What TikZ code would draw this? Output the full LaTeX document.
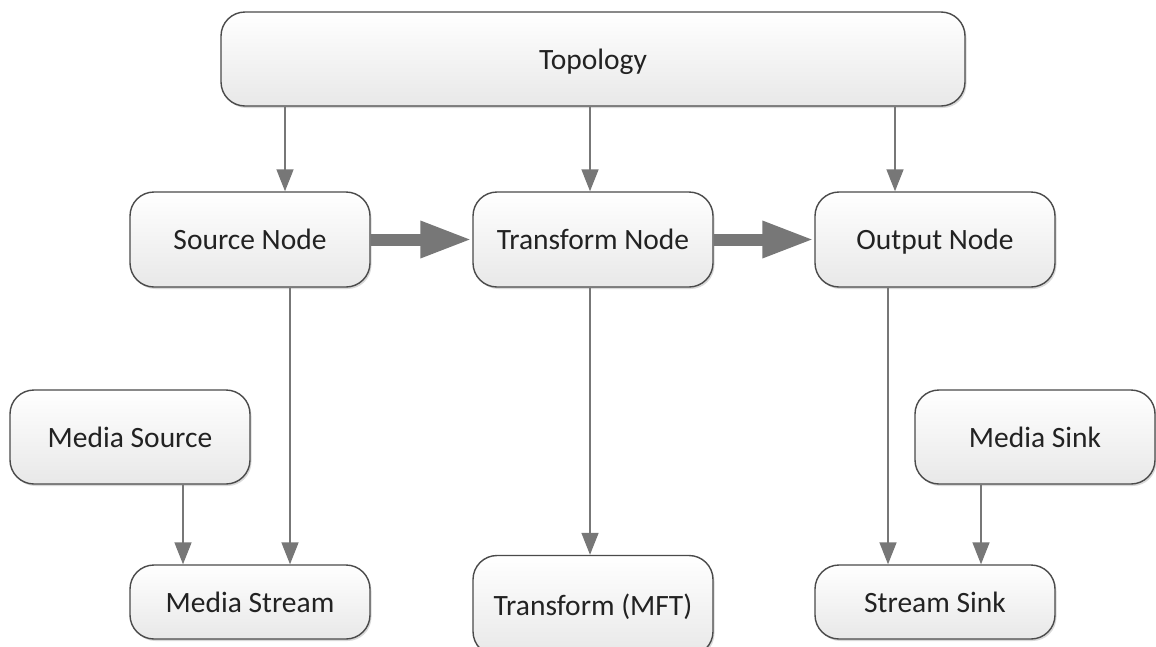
\documentclass[tikz,border=0pt]{standalone}
\usepackage{fontspec}
\setmainfont{Carlito}
\usetikzlibrary{arrows.meta,shadows}
\definecolor{edgegray}{HTML}{777777}
\definecolor{boxline}{HTML}{4A4A4A}
\definecolor{boxtext}{HTML}{222222}
\begin{document}
\begin{tikzpicture}[x=1pt,y=-1pt,
  box/.style={rectangle, rounded corners=24pt, draw=boxline, line width=1.4pt,
    top color=white, bottom color=black!9, text=boxtext,
    font=\fontsize{29.5}{33}\selectfont, inner sep=0pt,
    text height=22.5pt, text depth=2pt,
    drop shadow={shadow xshift=1.5pt, shadow yshift=-2pt, opacity=0.25, fill=black!60}},
  std/.style={box, minimum width=240pt, minimum height=95pt},
  low/.style={box, minimum width=240pt, minimum height=74pt},
  link/.style={draw=edgegray, line width=1.6pt,
    -{Triangle[length=22pt 0, width=17pt 0]}},
  flow/.style={draw=edgegray, line width=12pt,
    -{Triangle[length=52pt 0, width=34pt 0]}}]
  \useasboundingbox (0,0) rectangle (1156,646);

  \node[box, minimum width=744pt, minimum height=94pt] (topo) at (593,59) {Topology};

  \node[std] (src)   at (250,239.5) {Source Node};
  \node[std] (xform) at (593,239.5) {Transform Node};
  \node[std] (out)   at (935,239.5) {Output Node};

  \node[box, minimum width=240pt, minimum height=94pt] (msrc)  at (130,437) {Media Source};
  \node[box, minimum width=240pt, minimum height=94pt] (msink) at (1035,437) {Media Sink};

  \node[low] (mstream) at (250,602) {Media Stream};
  \node[box, minimum width=240pt, minimum height=100pt] (mft) at (593,605.5) {Transform (MFT)};
  \node[low] (ssink) at (935,602) {Stream Sink};

  % topology to its nodes
  \draw[link] ([xshift=35pt]src.north |- topo.south) -- ([xshift=35pt]src.north);
  \draw[link] ([xshift=-3pt]xform.north |- topo.south) -- ([xshift=-3pt]xform.north);
  \draw[link] ([xshift=-40pt]out.north |- topo.south) -- ([xshift=-40pt]out.north);

  % data flow through the nodes
  \draw[flow] (src.east) -- (xform.west);
  \draw[flow] (xform.east) -- (out.west);

  % nodes to the objects they stand for
  \draw[link] ([xshift=40pt]src.south) -- ([xshift=40pt]mstream.north);
  \draw[link] ([xshift=53pt]msrc.south) -- ([xshift=53pt]msrc.south |- mstream.north);
  \draw[link] ([xshift=-3pt]xform.south) -- ([xshift=-3pt]mft.north);
  \draw[link] ([xshift=-47pt]out.south) -- ([xshift=-47pt]ssink.north);
  \draw[link] ([xshift=-54pt]msink.south) -- ([xshift=-54pt]msink.south |- ssink.north);
\end{tikzpicture}
\end{document}
